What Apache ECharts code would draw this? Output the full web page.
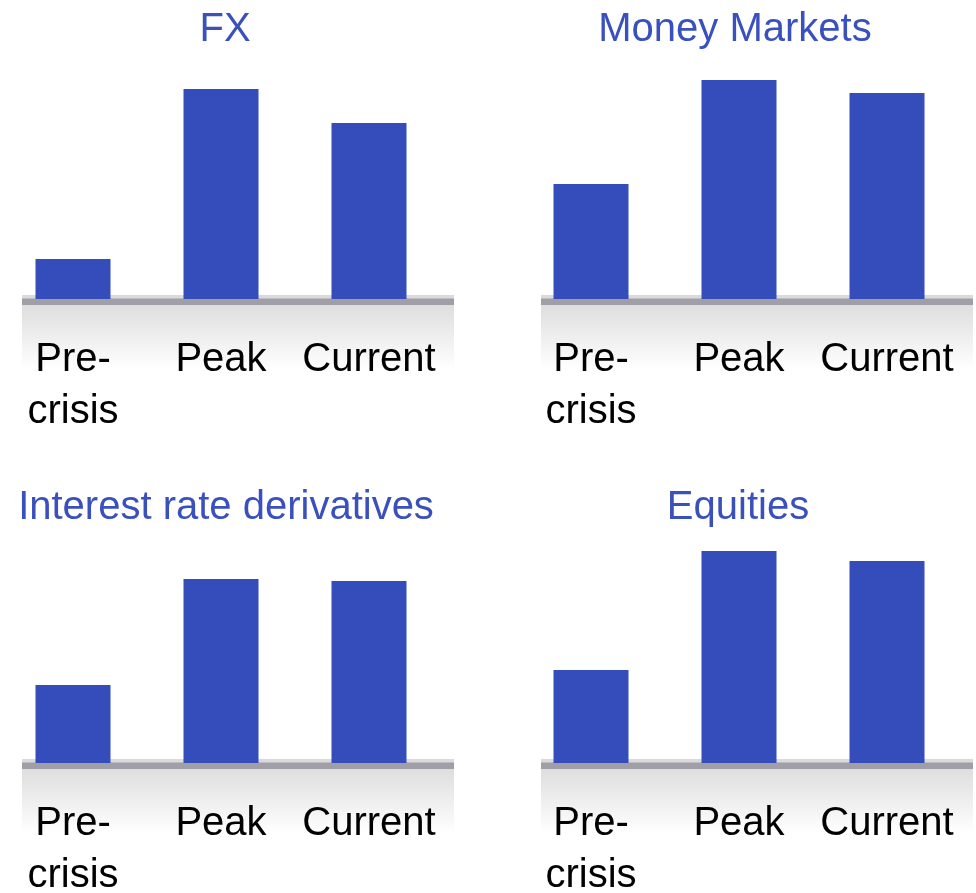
<!DOCTYPE html>
<html><head><meta charset="utf-8">
<script src="https://cdn.jsdelivr.net/npm/echarts@6/dist/echarts.min.js"></script>
<style>html,body{margin:0;padding:0;background:#fff}#c{width:976px;height:893px}</style>
</head><body><div id="c"></div>
<script>
const categories = ['Pre-crisis', 'Peak', 'Current'];
const titles = ['FX', 'Money Markets', 'Interest rate derivatives', 'Equities'];
const fxValues = [40, 210, 176];
const moneyMarketsValues = [115, 219, 206];
const interestRateValues = [78, 184, 182];
const equitiesValues = [93, 212, 202];
const panelValues = [fxValues, moneyMarketsValues, interestRateValues, equitiesValues];

const FONT = '"Liberation Sans", Arial, sans-serif';
const BAR = '#344dbb';
const TITLE = '#3a50bc';
const panels = [
  {gridLeft: -1, gridTop: 59, titleX: 220, titleTop: 5, bandX: 22},
  {gridLeft: 517, gridTop: 59, titleX: 730, titleTop: 5, bandX: 541},
  {gridLeft: -1, gridTop: 523, titleX: 221, titleTop: 483, bandX: 22},
  {gridLeft: 517, gridTop: 523, titleX: 733, titleTop: 483, bandX: 541}
];
const H = 240, W = 444;

const option = {
  animation: false,
  backgroundColor: '#fff',
  title: panels.map((p, i) => ({
    text: titles[i], left: p.titleX, top: p.titleTop, textAlign: 'center',
    textStyle: {color: TITLE, fontSize: 40, fontWeight: 'normal', fontFamily: FONT}
  })),
  graphic: panels.flatMap(p => [
    {type: 'rect', z: -10, silent: true,
     shape: {x: p.bandX, y: p.gridTop + H - 4, width: 432, height: 75},
     style: {fill: new echarts.graphic.LinearGradient(0, 0, 0, 1, [
       {offset: 0, color: '#d9d9d9'}, {offset: 1, color: 'rgba(255,255,255,1)'}])}},
    {type: 'rect', z: -5, silent: true,
     shape: {x: p.bandX, y: p.gridTop + H - 0.5, width: 432, height: 6.5},
     style: {fill: '#a09fa8'}}
  ]),
  grid: panels.map(p => ({left: p.gridLeft, top: p.gridTop, width: W, height: H,
    containLabel: false, outerBoundsMode: 'none'})),
  xAxis: panels.map((p, i) => ({
    type: 'category', gridIndex: i, data: categories,
    axisLine: {show: false}, axisTick: {show: false},
    axisLabel: {interval: 0, margin: 35, color: '#000', fontSize: 40, fontFamily: FONT, lineHeight: 52,
      formatter: v => v.replace('Pre-', 'Pre-\n')}
  })),
  yAxis: panels.map((p, i) => ({
    type: 'value', gridIndex: i, min: 0, max: 240, show: false, splitLine: {show: false}
  })),
  series: panels.map((p, i) => ({
    type: 'bar', xAxisIndex: i, yAxisIndex: i, data: panelValues[i], barWidth: 75,
    itemStyle: {color: BAR}
  }))
};
const chart = echarts.init(document.getElementById('c'), null, {renderer: 'canvas'});
chart.setOption(option);
</script></body></html>
